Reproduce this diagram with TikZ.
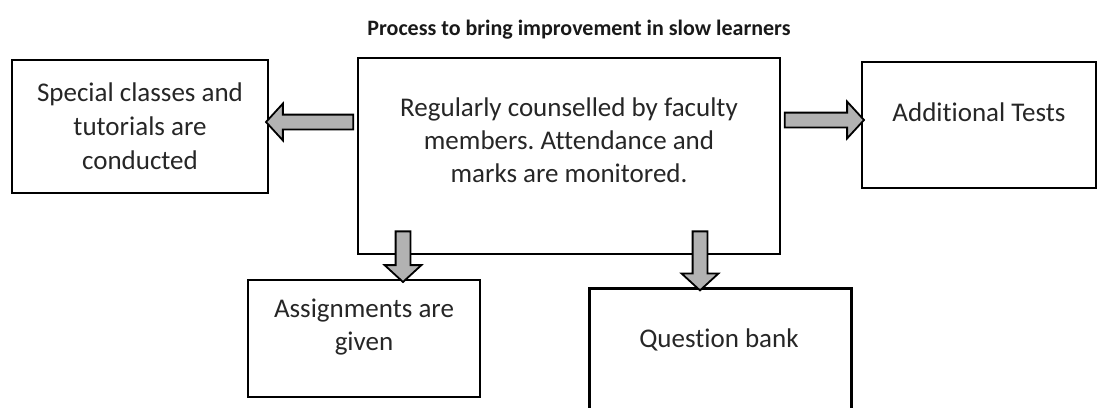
\documentclass[tikz,border=0pt]{standalone}
\usepackage{fontspec}
\setmainfont{Carlito}[Ligatures=NoCommon]
\frenchspacing
\usetikzlibrary{calc,shapes.arrows}

\tikzset{
  box/.style={draw=black, line width=2.8pt, inner sep=0pt, align=center,
    text=black!85, font=\fontsize{27}{34}\selectfont},
  txt/.style={align=center, inner sep=0pt, text=black!85, font=\fontsize{27}{33}\selectfont},
  fatarrow/.style={single arrow, draw=black, line width=1.8pt, fill=gray!60,
    inner sep=6.5pt, single arrow head extend=11pt, single arrow tip angle=95}
}
\newcommand{\fatarrowto}[2]{%
  \path let \p1=(#1), \p2=(#2), \n1={veclen(\x2-\x1,\y2-\y1)}, \n2={atan2(\y2-\y1,\x2-\x1)} in
    node[fatarrow, minimum height=\n1, rotate=\n2] at ($(\p1)!0.5!(\p2)$) {};}

\begin{document}
\begin{tikzpicture}[x=1pt,y=-1pt]
  \useasboundingbox (0,0) rectangle (1105,407);
  \node[font=\bfseries\fontsize{22}{26}\selectfont, text=black!90] (title) at (579,30) {Process to bring improvement in slow learners};
  \node[box, minimum width=256pt, minimum height=133pt] (sp) at (140,126.5) {Special classes and\\tutorials are\\conducted};
  \node[box, minimum width=422pt, minimum height=196pt] (rc) at (569,156) {};
  \node[txt] (rct) at (569,140) {Regularly counselled by faculty\\members. Attendance and\\marks are monitored.};
  \node[box, minimum width=234pt, minimum height=126pt] (at) at (979,125) {};
  \node[txt] (att) at (979,112) {Additional Tests};
  \node[box, minimum width=232pt, minimum height=117pt] (ag) at (364,338.5) {};
  \node[txt] (agt) at (364,327.5) {Assignments are\\given};
  \node[box, minimum width=262pt, minimum height=140pt, anchor=north west] (qb) at (588,287) {};
  \node[txt] (qbt) at (719,340) {Question bank};
  \coordinate (d1) at (403,228);
  \coordinate (d2) at (700,228);
  \fatarrowto{rc.west |- 0,122}{sp.east |- 0,122}
  \fatarrowto{rc.east |- 0,120}{at.west |- 0,120}
  \fatarrowto{d1}{d1 |- ag.north}
  \fatarrowto{d2}{d2 |- qb.north}
\end{tikzpicture}
\end{document}
